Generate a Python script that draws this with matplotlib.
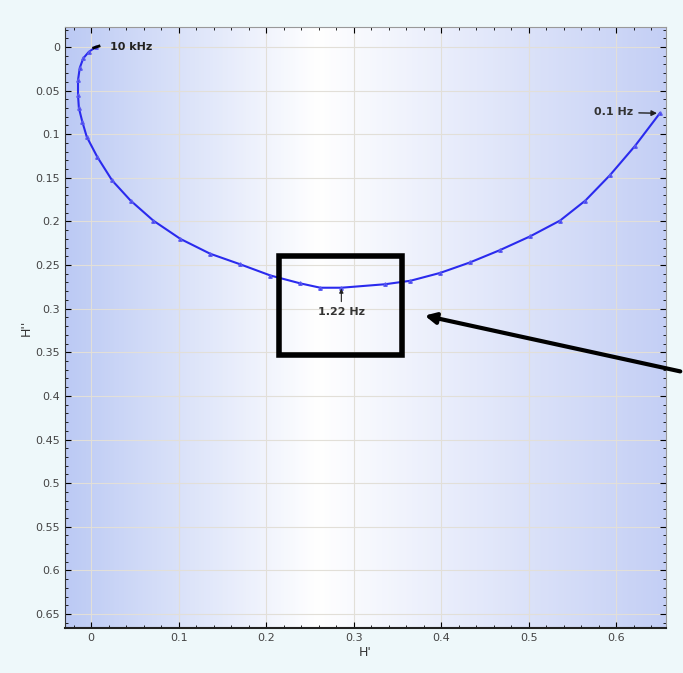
import matplotlib
matplotlib.use("Agg")
import matplotlib.pyplot as plt
import numpy as np
from matplotlib.ticker import MultipleLocator
from matplotlib.colors import LinearSegmentedColormap

# Nyquist-style curve, H' vs H''
h_real = [0.005, -0.003, -0.009, -0.013, -0.015, -0.015, -0.014, -0.010, -0.005,
          0.007, 0.024, 0.045, 0.071, 0.102, 0.136, 0.170, 0.205, 0.239, 0.262,
          0.286, 0.336, 0.365, 0.399, 0.433, 0.467, 0.502, 0.536, 0.565, 0.593,
          0.622, 0.650]
h_imag = [0.000, 0.006, 0.013, 0.024, 0.038, 0.055, 0.070, 0.086, 0.103,
          0.126, 0.153, 0.176, 0.199, 0.220, 0.237, 0.249, 0.262, 0.271, 0.276,
          0.276, 0.272, 0.268, 0.259, 0.247, 0.233, 0.217, 0.199, 0.176, 0.147,
          0.113, 0.076]

x_ticks = [0, 0.1, 0.2, 0.3, 0.4, 0.5, 0.6]
y_ticks = [0, 0.05, 0.1, 0.15, 0.2, 0.25, 0.3, 0.35, 0.4, 0.45, 0.5, 0.55, 0.6, 0.65]

fig = plt.figure(figsize=(6.83, 6.73), dpi=100)
fig.patch.set_facecolor("#eef8fa")
ax = fig.add_axes([0.095, 0.067, 0.88, 0.893])

# horizontal blue-white-blue gradient background
cmap = LinearSegmentedColormap.from_list("bg", ["#bccaf4", "#ffffff", "#c4cff5"])
grad = np.linspace(0, 1, 256).reshape(1, -1)
grad = np.interp(grad, [0, 0.42, 1], [0, 0.5, 1])
ax.imshow(grad, cmap=cmap, aspect="auto", extent=[0, 1, 0, 1],
          transform=ax.transAxes, zorder=0)

ax.plot(h_real, h_imag, color="#2a2aee", lw=1.5, marker="^", ms=2.5,
        mec="#5a5af0", zorder=3)

ax.set_xlim(-0.03, 0.657)
ax.set_ylim(0.666, -0.023)
ax.set_xticks(x_ticks)
ax.set_xticklabels([f"{v:g}" for v in x_ticks])
ax.set_yticks(y_ticks)
ax.set_yticklabels([f"{v:g}" for v in y_ticks])
ax.xaxis.set_minor_locator(MultipleLocator(0.02))
ax.yaxis.set_minor_locator(MultipleLocator(0.01))
ax.tick_params(which="both", direction="in", top=True, right=True,
               labelsize=8, labelcolor="#444444")
ax.tick_params(which="major", length=4)
ax.tick_params(which="minor", length=2)
ax.grid(True, color="#e2dfd8", lw=0.8, zorder=1)
for s in ax.spines.values():
    s.set_color("#999999")
ax.spines["left"].set_color("#333333")
ax.spines["bottom"].set_color("#222222")
ax.spines["bottom"].set_linewidth(1.5)

ax.set_xlabel("H'", fontsize=9, color="#333333", labelpad=2)
ax.set_ylabel("H''", fontsize=9, color="#333333", labelpad=2)

# frequency labels
ax.plot([h_real[0] - 0.002, h_real[0] + 0.004], [h_imag[0] + 0.001, h_imag[0] - 0.001],
        color="black", lw=2, zorder=4)
ax.text(0.022, 0.0, "10 kHz", fontsize=8, fontweight="bold", va="center",
        color="#222222")
ax.annotate("0.1 Hz", xy=(h_real[-1], h_imag[-1]), xytext=(0.575, 0.075),
            fontsize=8, fontweight="bold", va="center", color="#333333",
            arrowprops=dict(arrowstyle="-|>", color="#222222", lw=1,
                            mutation_scale=8))
ax.annotate("1.22 Hz", xy=(0.286, 0.277), xytext=(0.286, 0.304),
            fontsize=8, fontweight="bold", ha="center", va="center",
            color="#333333",
            arrowprops=dict(arrowstyle="-|>", color="#222222", lw=0.8,
                            mutation_scale=6, shrinkB=0))

# highlight box and pointer
ax.add_patch(plt.Rectangle((0.215, 0.240), 0.140, 0.113, fill=False,
                           ec="black", lw=4, zorder=5))
ax.annotate("", xy=(422 / 683, 1 - 315 / 673), xycoords="figure fraction",
            xytext=(1.0, 1 - 372 / 673), textcoords="figure fraction",
            arrowprops=dict(arrowstyle="-|>", color="black", lw=3,
                            mutation_scale=16), annotation_clip=False)

fig.savefig("out.png", dpi=100, facecolor=fig.get_facecolor())
